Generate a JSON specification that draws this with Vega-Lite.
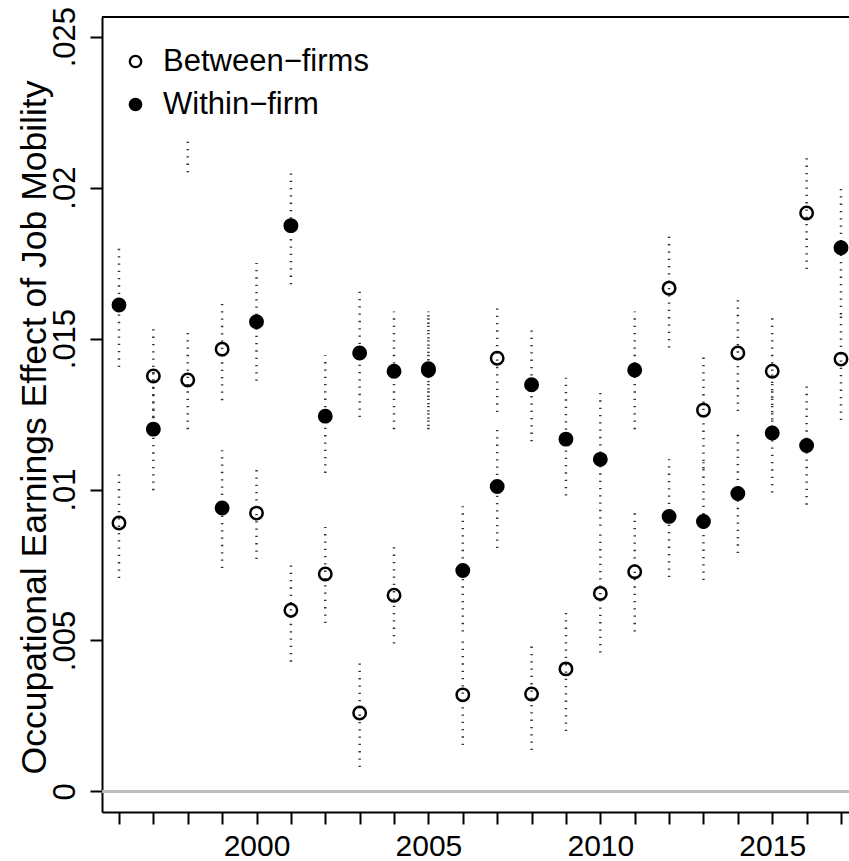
{
  "$schema": "https://vega.github.io/schema/vega-lite/v6.json",
  "width": 747,
  "height": 795,
  "autosize": {"type": "none"},
  "padding": {"left": 102, "top": 17, "right": 0, "bottom": 49},
  "background": "white",
  "config": {
    "view": {"stroke": null},
    "font": "Liberation Sans",
    "axis": {"grid": false, "domainColor": "black", "domainWidth": 2, "tickColor": "black", "tickWidth": 2, "tickSize": 12, "labelColor": "black", "labelFont": "Liberation Sans", "titleFont": "Liberation Sans", "titleColor": "black", "titleFontWeight": "normal", "labelOverlap": false, "labelFlush": false},
    "axisX": {"labelOverlap": false}
  },
  "data": {"values": [
    {"year": 1996, "series": "Between−firms", "est": 0.00889, "lo": 0.00707, "hi": 0.0107},
    {"year": 1997, "series": "Between−firms", "est": 0.01376, "lo": 0.01212, "hi": 0.0154},
    {"year": 1998, "series": "Between−firms", "est": 0.01363, "lo": 0.0120, "hi": 0.0152},
    {"year": 1999, "series": "Between−firms", "est": 0.01465, "lo": 0.01296, "hi": 0.01627},
    {"year": 2000, "series": "Between−firms", "est": 0.00922, "lo": 0.0077, "hi": 0.0107},
    {"year": 2001, "series": "Between−firms", "est": 0.0060, "lo": 0.0043, "hi": 0.0076},
    {"year": 2002, "series": "Between−firms", "est": 0.0072, "lo": 0.00558, "hi": 0.00876},
    {"year": 2003, "series": "Between−firms", "est": 0.0026, "lo": 0.00081, "hi": 0.00435},
    {"year": 2004, "series": "Between−firms", "est": 0.0065, "lo": 0.0049, "hi": 0.0081},
    {"year": 2005, "series": "Between−firms", "est": 0.01395, "lo": 0.0121, "hi": 0.0158},
    {"year": 2006, "series": "Between−firms", "est": 0.0032, "lo": 0.00154, "hi": 0.00498},
    {"year": 2007, "series": "Between−firms", "est": 0.01435, "lo": 0.01257, "hi": 0.01607},
    {"year": 2008, "series": "Between−firms", "est": 0.00323, "lo": 0.00137, "hi": 0.0050},
    {"year": 2009, "series": "Between−firms", "est": 0.00406, "lo": 0.0020, "hi": 0.0061},
    {"year": 2010, "series": "Between−firms", "est": 0.00656, "lo": 0.0046, "hi": 0.0086},
    {"year": 2011, "series": "Between−firms", "est": 0.00728, "lo": 0.0053, "hi": 0.0093},
    {"year": 2012, "series": "Between−firms", "est": 0.01667, "lo": 0.0147, "hi": 0.0185},
    {"year": 2013, "series": "Between−firms", "est": 0.01263, "lo": 0.0107, "hi": 0.0145},
    {"year": 2014, "series": "Between−firms", "est": 0.01452, "lo": 0.0126, "hi": 0.0164},
    {"year": 2015, "series": "Between−firms", "est": 0.01392, "lo": 0.0120, "hi": 0.0158},
    {"year": 2016, "series": "Between−firms", "est": 0.01916, "lo": 0.0173, "hi": 0.0211},
    {"year": 2017, "series": "Between−firms", "est": 0.01432, "lo": 0.0123, "hi": 0.0159},
    {"year": 1996, "series": "Within−firm", "est": 0.01611, "lo": 0.01406, "hi": 0.01803},
    {"year": 1997, "series": "Within−firm", "est": 0.0120, "lo": 0.00998, "hi": 0.01399},
    {"year": 1998, "series": "Within−firm", "est": null, "lo": 0.02051, "hi": 0.02167},
    {"year": 1999, "series": "Within−firm", "est": 0.00939, "lo": 0.0074, "hi": 0.0113},
    {"year": 2000, "series": "Within−firm", "est": 0.01556, "lo": 0.0136, "hi": 0.0175},
    {"year": 2001, "series": "Within−firm", "est": 0.01874, "lo": 0.0168, "hi": 0.0206},
    {"year": 2002, "series": "Within−firm", "est": 0.01243, "lo": 0.01055, "hi": 0.01445},
    {"year": 2003, "series": "Within−firm", "est": 0.01452, "lo": 0.0124, "hi": 0.0167},
    {"year": 2004, "series": "Within−firm", "est": 0.01392, "lo": 0.0120, "hi": 0.0159},
    {"year": 2005, "series": "Within−firm", "est": 0.0140, "lo": 0.0120, "hi": 0.0159},
    {"year": 2006, "series": "Within−firm", "est": 0.00732, "lo": 0.0053, "hi": 0.00945},
    {"year": 2007, "series": "Within−firm", "est": 0.0101, "lo": 0.00806, "hi": 0.0121},
    {"year": 2008, "series": "Within−firm", "est": 0.01347, "lo": 0.0116, "hi": 0.0154},
    {"year": 2009, "series": "Within−firm", "est": 0.01167, "lo": 0.0098, "hi": 0.0137},
    {"year": 2010, "series": "Within−firm", "est": 0.0110, "lo": 0.0088, "hi": 0.0132},
    {"year": 2011, "series": "Within−firm", "est": 0.01396, "lo": 0.0120, "hi": 0.0159},
    {"year": 2012, "series": "Within−firm", "est": 0.00911, "lo": 0.0071, "hi": 0.0110},
    {"year": 2013, "series": "Within−firm", "est": 0.00894, "lo": 0.0070, "hi": 0.0109},
    {"year": 2014, "series": "Within−firm", "est": 0.00987, "lo": 0.0079, "hi": 0.0119},
    {"year": 2015, "series": "Within−firm", "est": 0.01187, "lo": 0.0099, "hi": 0.0139},
    {"year": 2016, "series": "Within−firm", "est": 0.01146, "lo": 0.0095, "hi": 0.0135},
    {"year": 2017, "series": "Within−firm", "est": 0.01801, "lo": 0.0158, "hi": 0.0201}
  ]},
  "layer": [
    {
      "mark": {"type": "rule", "color": "#bdbdbd", "strokeWidth": 2.5},
      "encoding": {"y": {"datum": 0, "type": "quantitative"}}
    },
    {
      "mark": {"type": "rule", "color": "black", "strokeWidth": 2},
      "encoding": {"y": {"datum": 0.02565, "type": "quantitative"}}
    },
    {
      "mark": {"type": "rule", "color": "#333333", "strokeWidth": 2.5, "strokeDash": [1.3, 6], "strokeCap": "butt"},
      "encoding": {
        "x": {
          "field": "year", "type": "quantitative",
          "scale": {"domain": [1995.506, 2017.233], "nice": false, "zero": false},
          "axis": {
            "title": null,
            "values": [1996, 1997, 1998, 1999, 2000, 2001, 2002, 2003, 2004, 2005, 2006, 2007, 2008, 2009, 2010, 2011, 2012, 2013, 2014, 2015, 2016, 2017],
            "labelExpr": "datum.value % 5 === 0 ? format(datum.value, 'd') : ''",
            "labelFontSize": 30, "labelPadding": 7, "labelFlush": false, "labelOverlap": false
          }
        },
        "y": {"field": "lo", "type": "quantitative"},
        "y2": {"field": "hi"}
      }
    },
    {
      "mark": {"type": "point", "shape": "circle", "filled": true, "stroke": "black", "strokeWidth": 2.5, "opacity": 1, "size": 154},
      "encoding": {
        "x": {
          "field": "year", "type": "quantitative",
          "scale": {"domain": [1995.506, 2017.233], "nice": false, "zero": false},
          "axis": {
            "title": null,
            "values": [1996, 1997, 1998, 1999, 2000, 2001, 2002, 2003, 2004, 2005, 2006, 2007, 2008, 2009, 2010, 2011, 2012, 2013, 2014, 2015, 2016, 2017],
            "labelExpr": "datum.value % 5 === 0 ? format(datum.value, 'd') : ''",
            "labelFontSize": 30, "labelPadding": 7, "labelFlush": false, "labelOverlap": false
          }
        },
        "y": {
          "field": "est", "type": "quantitative",
          "scale": {"domain": [-0.00068, 0.02565], "nice": false, "zero": false},
          "axis": {
            "title": "Occupational Earnings Effect of Job Mobility",
            "titleFontSize": 35.5, "titleAngle": -90, "titleBaseline": "alphabetic", "titleAlign": "center",
            "titleX": -57, "titleY": 410,
            "values": [0, 0.005, 0.01, 0.015, 0.02, 0.025],
            "labelExpr": "datum.value == 0 ? '0' : slice(format(datum.value, '.3~f'), 1)",
            "labelAngle": -90, "labelAlign": "center", "labelBaseline": "bottom",
            "labelFontSize": 31, "labelPadding": 9, "labelFlush": false, "labelOverlap": false
          }
        },
        "fill": {
          "field": "series", "type": "nominal",
          "scale": {"domain": ["Between−firms", "Within−firm"], "range": ["transparent", "black"]},
          "legend": {
            "title": null, "orient": "none", "legendX": 18, "legendY": 29,
            "padding": 0, "symbolType": "circle", "symbolSize": 130,
            "symbolStrokeColor": "black", "symbolStrokeWidth": 2.3,
            "labelFontSize": 31, "labelFont": "Liberation Sans", "labelColor": "black", "labelLimit": 0,
            "labelOffset": 12, "rowPadding": 11
          }
        }
      }
    }
  ]
}
